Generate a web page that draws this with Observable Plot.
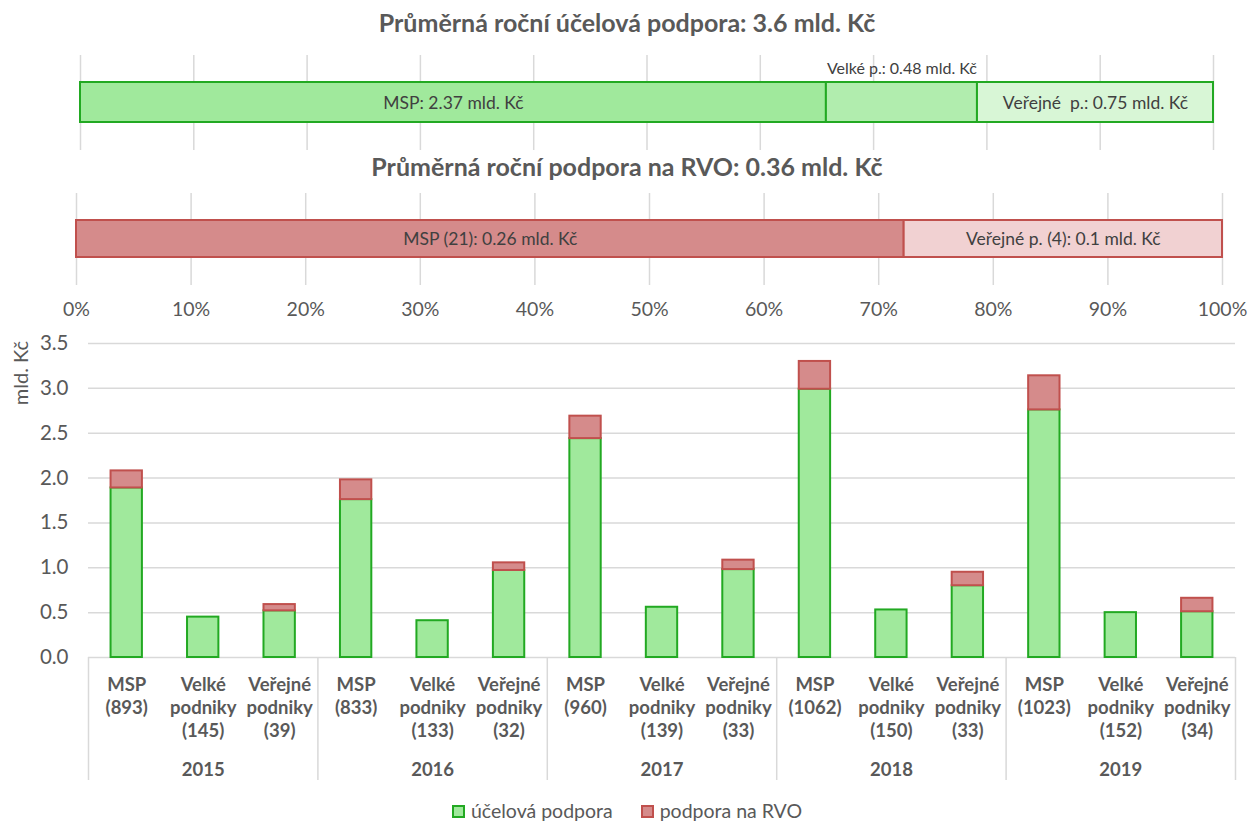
<!DOCTYPE html>
<html><head><meta charset="utf-8">
<script src="https://cdn.jsdelivr.net/npm/d3@7"></script>
<script src="https://cdn.jsdelivr.net/npm/@observablehq/plot@0.6"></script>
<style>
body{margin:0;background:#fff;font-family:Lato,"Open Sans",sans-serif;}
#root{position:relative;width:1254px;height:823px;overflow:hidden;background:#fff;}
.part{position:absolute;left:0;}
.title{position:absolute;left:0;width:1254px;text-align:center;font-weight:bold;font-size:25px;color:#595959;line-height:28px;}
.ytitle{position:absolute;left:-20px;top:362px;width:80px;text-align:center;font-size:20px;color:#595959;transform:rotate(-90deg);transform-origin:center;line-height:22px;}
.legend{position:absolute;left:0;top:800px;width:1254px;display:flex;justify-content:center;gap:28px;font-size:19.5px;color:#595959;line-height:21px;}
.legend span.sw{display:inline-block;width:9px;height:9px;border:2px solid;margin-right:6px;vertical-align:0px;}
</style></head><body><div id="root"></div>
<script>
// ---- data ----
const years = ["2015","2016","2017","2018","2019"];
const types = ["MSP","Velké podniky","Veřejné podniky"];
const counts = [[893,145,39],[833,133,32],[960,139,33],[1062,150,33],[1023,152,34]];
const ucelova = [[1.89,0.45,0.52],[1.76,0.41,0.97],[2.44,0.56,0.98],[2.99,0.53,0.80],[2.76,0.50,0.51]];
const rvo = [[0.19,0,0.07],[0.22,0,0.085],[0.25,0,0.105],[0.31,0,0.15],[0.38,0,0.15]];
const avgUcelLabels = ["MSP","Velké p.","Veřejné  p."];
const avgUcel = [2.37,0.48,0.75];
const avgRvoLabels = ["MSP (21)","Veřejné p. (4)"];
const avgRvo = [0.26,0.10];
const pctTicks = [0,10,20,30,40,50,60,70,80,90,100];
const yTicks = [0,0.5,1.0,1.5,2.0,2.5,3.0,3.5];
const title1 = "Průměrná roční účelová podpora: 3.6 mld. Kč";
const title2 = "Průměrná roční podpora na RVO: 0.36 mld. Kč";
const legendLabels = ["účelová podpora","podpora na RVO"];

// ---- styles ----
const GREEN = "#a0e99c", GREEN_S = "#22a922";
const RED = "#d58b8b", RED_S = "#c0504d";
const GRID = "#d9d9d9", TXT = "#595959";
const root = document.getElementById("root");

function place(el, top){ const w=document.createElement("div"); w.className="part"; w.style.top=top+"px"; w.appendChild(el); root.appendChild(w); }
function addTitle(t, top){ const d=document.createElement("div"); d.className="title"; d.style.top=top+"px"; d.textContent=t; root.appendChild(d); }

function segs(labels, values){
  const total = d3.sum(values); let cum = 0;
  return values.map((v,i)=>{ const p=v/total*100; const s={i,label:labels[i],v,x1:cum,x2:cum+p,mid:cum+p/2}; cum+=p; return s; });
}

// ---- top bar: účelová podpora ----
addTitle(title1, 8);
const s1 = segs(avgUcelLabels, avgUcel);
const fills1 = ["#a0e99c","#b1edae","#d8f6d6"];
place(Plot.plot({
  width:1254, height:95, marginLeft:80, marginRight:41, marginTop:0, marginBottom:0,
  style:{fontFamily:"Lato, sans-serif", background:"transparent"},
  x:{domain:[0,100], axis:null},
  y:{domain:["a"], padding:0, axis:null},
  marks:[
    Plot.ruleX(pctTicks, {stroke:GRID, strokeWidth:1.5}),
    Plot.barX(s1, {x1:"x1", x2:"x2", y:()=>"a", insetTop:27, insetBottom:28, fill:(d)=>fills1[d.i], stroke:GREEN_S, strokeWidth:2}),
    Plot.text(s1.filter(d=>d.i!==1), {x:"mid", y:()=>"a", text:d=>`${d.label}: ${d.v} mld. Kč`, fontSize:17.5, fill:"#404040"}),
    Plot.text(s1.filter(d=>d.i===1), {x:"mid", y:()=>"a", dy:-34, text:d=>`${d.label}: ${d.v} mld. Kč`, fontSize:16, fill:"#404040"})
  ]
}), 55);

// ---- second bar: RVO ----
addTitle(title2, 152);
const s2 = segs(avgRvoLabels, avgRvo);
const fills2 = ["#d58b8b","#f1d1d2"];
place(Plot.plot({
  width:1254, height:130, marginLeft:76, marginRight:32, marginTop:0, marginBottom:38,
  style:{fontFamily:"Lato, sans-serif", background:"transparent"},
  x:{domain:[0,100]},
  y:{domain:["a"], padding:0, axis:null},
  marks:[
    Plot.ruleX(pctTicks, {stroke:GRID, strokeWidth:1.5}),
    Plot.barX(s2, {x1:"x1", x2:"x2", y:()=>"a", insetTop:27, insetBottom:28, fill:(d)=>fills2[d.i], stroke:RED_S, strokeWidth:2}),
    Plot.text(s2, {x:"mid", y:()=>"a", text:d=>`${d.label}: ${d.v} mld. Kč`, fontSize:17.5, fill:"#404040"}),
    Plot.axisX({ticks:pctTicks, tickFormat:d=>d+"%", tickSize:0, tickPadding:17, fontSize:19.5, fill:TXT, label:null})
  ]
}), 193);

// ---- main chart ----
const rows = [];
years.forEach((yr,j)=>types.forEach((t,k)=>{
  rows.push({i:j*3+k, year:yr, type:t, count:counts[j][k], uc:ucelova[j][k], rvo:rvo[j][k]});
}));
const catLabel = d => d.type==="MSP" ? `MSP\n(${d.count})` : d.type.replace(" ","\n")+`\n(${d.count})`;
const sepTicks = years.map((y,j)=>j*3).concat([rows.length]);
const half = 0.205;
place(Plot.plot({
  width:1254, height:470, marginLeft:88, marginRight:19, marginTop:13, marginBottom:143,
  style:{fontFamily:"Lato, sans-serif", background:"transparent"},
  x:{domain:[0,rows.length], axis:null},
  y:{domain:[0,3.5]},
  marks:[
    Plot.ruleY(yTicks, {stroke:GRID, strokeWidth:1.5}),
    Plot.axisY({ticks:yTicks, tickFormat:d3.format(".1f"), tickSize:0, tickPadding:20, fontSize:20.5, fill:TXT, label:null}),
    Plot.axisX({ticks:sepTicks, tickFormat:()=>"", tickSize:123, stroke:GRID, strokeWidth:1.5, label:null}),
    Plot.rectY(rows, {x1:d=>d.i+0.5-half, x2:d=>d.i+0.5+half, y1:0, y2:"uc", fill:GREEN, stroke:GREEN_S, strokeWidth:2}),
    Plot.rectY(rows.filter(d=>d.rvo>0), {x1:d=>d.i+0.5-half, x2:d=>d.i+0.5+half, y1:"uc", y2:d=>d.uc+d.rvo, fill:RED, stroke:RED_S, strokeWidth:2}),
    Plot.text(rows, {x:d=>d.i+0.5, y:0, text:catLabel, lineAnchor:"top", dy:17, lineHeight:1.243, fontWeight:"bold", fontSize:18.5, fill:TXT}),
    Plot.text(rows.filter(d=>d.type===types[1]), {x:d=>d.i+0.5, y:0, text:"year", lineAnchor:"top", dy:105, fontWeight:"bold", fontSize:18.5, fill:TXT})
  ]
}), 330);

// y title
const yt = document.createElement("div"); yt.className="ytitle"; yt.textContent="mld. Kč"; root.appendChild(yt);

// legend
const lg = document.createElement("div"); lg.className="legend";
[[GREEN,GREEN_S],[RED,RED_S]].forEach((c,i)=>{
  const it=document.createElement("div");
  const sw=document.createElement("span"); sw.className="sw"; sw.style.background=c[0]; sw.style.borderColor=c[1];
  it.appendChild(sw); it.appendChild(document.createTextNode(legendLabels[i])); lg.appendChild(it);
});
root.appendChild(lg);
</script></body></html>
